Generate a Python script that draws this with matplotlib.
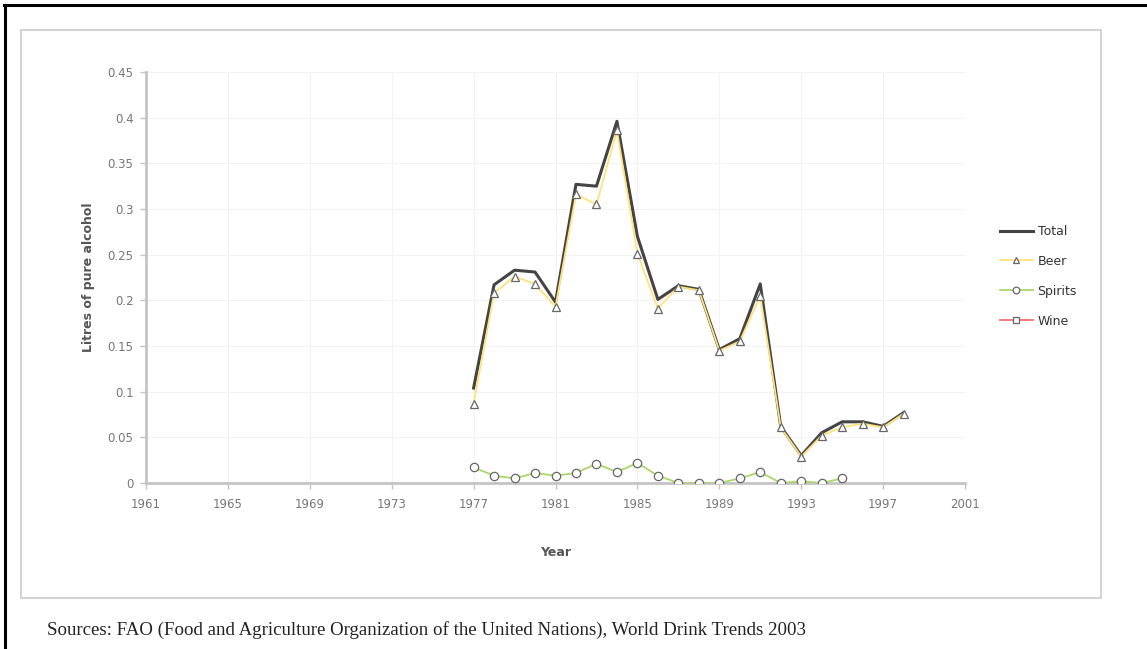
import matplotlib.pyplot as plt
from matplotlib.patches import Rectangle
from matplotlib.lines import Line2D

# values (litres of pure alcohol)
years = list(range(1977, 1999))
total = [0.104, 0.217, 0.233, 0.231, 0.198, 0.327, 0.325, 0.396, 0.27, 0.201,
         0.216, 0.212, 0.146, 0.158, 0.218, 0.062, 0.03, 0.055, 0.067, 0.067,
         0.062, 0.077]
beer = [0.087, 0.208, 0.226, 0.218, 0.193, 0.316, 0.305, 0.386, 0.251, 0.191,
        0.215, 0.211, 0.145, 0.155, 0.205, 0.061, 0.029, 0.052, 0.061, 0.065,
        0.061, 0.076]
spirit_years = list(range(1977, 1996))
spirits = [0.017, 0.008, 0.005, 0.011, 0.008, 0.011, 0.021, 0.012, 0.022, 0.008,
           0.0, 0.0, 0.0, 0.005, 0.012, 0.0, 0.002, 0.0, 0.005]
wine_years = []
wine = []

xticks = list(range(1961, 2002, 4))
yticks = [0, 0.05, 0.1, 0.15, 0.2, 0.25, 0.3, 0.35, 0.4, 0.45]
ytick_labels = ['0', '0.05', '0.1', '0.15', '0.2', '0.25', '0.3', '0.35', '0.4', '0.45']

W, H = 1147, 649
fig = plt.figure(figsize=(W / 100, H / 100), dpi=100)

# outer black border (top and left) and light grey chart frame
fig.add_artist(Line2D([4 / W, 1], [1 - 5 / H, 1 - 5 / H], color='black', lw=2.2))
fig.add_artist(Line2D([5 / W, 5 / W], [0, 1 - 5 / H], color='black', lw=2.2))
fig.add_artist(Rectangle((21 / W, 1 - 598 / H), (1101 - 21) / W, (598 - 30) / H,
                         fill=False, edgecolor='#d4d4d4', lw=1.5))

ax = fig.add_axes([146 / W, 1 - 483 / H, (965 - 146) / W, (483 - 72) / H])

ax.plot(years, total, color='#444444', lw=2.2, label='Total', zorder=3)
ax.plot(years, beer, color='#ffe27a', lw=1.3, marker='^', ms=6,
        mfc='white', mec='#666666', mew=0.9, label='Beer', zorder=4)
ax.plot(spirit_years, spirits, color='#a8d86a', lw=1.3, marker='o', ms=6,
        mfc='white', mec='#666666', mew=0.9, label='Spirits', zorder=4)
ax.plot(wine_years, wine, color='#ff6f6f', lw=1.3, marker='s', ms=6,
        mfc='white', mec='#666666', mew=0.9, label='Wine', zorder=4)

ax.set_xlim(1961, 2001)
ax.set_ylim(0, 0.45)
ax.set_xticks(xticks)
ax.set_yticks(yticks)
ax.set_yticklabels(ytick_labels)

for side in ['top', 'right']:
    ax.spines[side].set_visible(False)
for side in ['left', 'bottom']:
    ax.spines[side].set_color('#c4c4c4')
    ax.spines[side].set_linewidth(2)
ax.tick_params(colors='#c4c4c4', labelcolor='#777777', labelsize=8.5, length=4, width=1)
ax.tick_params(axis='x', pad=7)
ax.tick_params(axis='y', pad=5)

ax.grid(True, color='#f3f3f3', lw=0.8)
ax.set_axisbelow(True)

ax.set_xlabel('Year', fontsize=9, fontweight='bold', color='#555555', labelpad=25)
ax.set_ylabel('Litres of pure alcohol', fontsize=9, fontweight='bold', color='#555555', labelpad=9)

ax.legend(loc='upper left', bbox_to_anchor=(1000 / W, 1 - 225 / H),
          bbox_transform=fig.transFigure, frameon=False, fontsize=9,
          handlelength=2.6, handletextpad=0.4, labelspacing=1.35, borderpad=0,
          borderaxespad=0, labelcolor='#333333', markerscale=0.8)

fig.text(47 / W, 1 - 630 / H, 'Sources: FAO (Food and Agriculture Organization of the United Nations), '
         'World Drink Trends 2003', fontsize=13.6, family='Liberation Serif',
         color='#222222', va='center', ha='left')

fig.savefig('out.png', dpi=100)
